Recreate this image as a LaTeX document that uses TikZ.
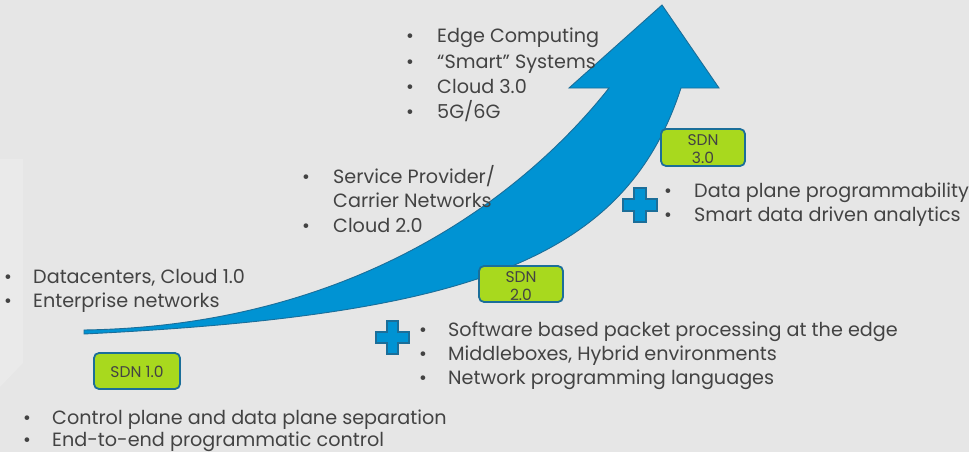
\documentclass[tikz,border=0pt]{standalone}
\usepackage{fontspec}
\setmainfont{Poppins}
\definecolor{bgcol}{HTML}{E6E6E6}
\definecolor{faintcol}{HTML}{EAEAEA}
\definecolor{arrowblue}{HTML}{0093D3}
\definecolor{edgeblue}{HTML}{1B6E99}
\definecolor{limecol}{HTML}{A8D91E}
\definecolor{txtcol}{HTML}{434343}
\tikzset{
  txt/.style={inner sep=0pt, anchor=base west, text=txtcol, font=\fontsize{19.2}{24}\selectfont},
  blt/.style={inner sep=0pt, anchor=base, text=txtcol, font=\fontsize{19}{24}\selectfont},
  sdnbox/.style={draw=edgeblue, line width=1.8pt, fill=limecol, rounded corners=5pt},
  sdntxt/.style={inner sep=0pt, anchor=base, text=txtcol, font=\fontsize{15.5}{18}\selectfont},
  arrowst/.style={fill=arrowblue, draw=edgeblue, line width=0.9pt, line join=miter},
  plusst/.style={fill=arrowblue, draw=edgeblue, line width=1.5pt}
}
\begin{document}
\begin{tikzpicture}[x=1pt,y=-1pt]
\fill[bgcol] (0,0) rectangle (969,452);
\useasboundingbox (0,0) rectangle (969,452);
% faint left shape
\fill[faintcol] (0,159) -- (23,159) -- (23,363) -- (0,387) -- cycle;

% main arrow
\coordinate (tailtop) at (84,330);
\coordinate (tailbot) at (84,334);
\coordinate (headinl) at (609,88);
\coordinate (headl) at (569,88);
\coordinate (tip) at (662,5);
\coordinate (headr) at (719,88);
\coordinate (headinr) at (681,88);
\draw[arrowst] (tailtop) .. controls (400,325) and (560,150) .. (headinl) -- (headl) -- (tip) -- (headr) -- (headinr) .. controls (625,260) and (470,315) .. (tailbot) -- cycle;

% top list
\node[blt] (b1) at (410,43) {•};
\node[txt] (t1) at (437,43) {Edge Computing};
\node[blt] (b2) at (410,68) {•};
\node[txt] (t2) at (437,68) {“Smart” Systems};
\node[blt] (b3) at (410,93) {•};
\node[txt] (t3) at (437,93) {Cloud 3.0};
\node[blt] (b4) at (410,118) {•};
\node[txt] (t4) at (437,118) {5G/6G};

% middle list
\node[blt] (b5) at (306,183) {•};
\node[txt] (t5) at (333,183) {Service Provider/};
\node[txt] (t6) at (333,207) {Carrier Networks};
\node[blt] (b7) at (306,232) {•};
\node[txt] (t7) at (333,232) {Cloud 2.0};

% left list
\node[blt] (b8) at (8,283) {•};
\node[txt] (t8) at (33,283) {Datacenters, Cloud 1.0};
\node[blt] (b9) at (8,307) {•};
\node[txt] (t9) at (33,307) {Enterprise networks};

% bottom list
\node[blt] (b10) at (27,424) {•};
\node[txt] (t10) at (52,424) {Control plane and data plane separation};
\node[blt] (b11) at (27,446) {•};
\node[txt] (t11) at (52,446) {End-to-end programmatic control};

% SDN 2.0 list
\node[blt] (b12) at (423,336) {•};
\node[txt] (t12) at (448,336) {Software based packet processing at the edge};
\node[blt] (b13) at (423,360) {•};
\node[txt] (t13) at (448,360) {Middleboxes, Hybrid environments};
\node[blt] (b14) at (423,384) {•};
\node[txt] (t14) at (448,384) {Network programming languages};

% SDN 3.0 list
\node[blt] (b15) at (668,197) {•};
\node[txt] (t15) at (694,197) {Data plane programmability};
\node[blt] (b16) at (668,221) {•};
\node[txt] (t16) at (694,221) {Smart data driven analytics};

% SDN boxes
\draw[sdnbox] (94,353) rectangle (180,389);
\node[sdntxt] (s1) at (137,377) {SDN 1.0};
\draw[sdnbox] (479,266) rectangle (563,302);
\node[sdntxt] (s2a) at (521,282) {SDN};
\node[sdntxt] (s2b) at (521,300) {2.0};
\draw[sdnbox] (661,129) rectangle (745,166);
\node[sdntxt] (s3a) at (703,145) {SDN};
\node[sdntxt] (s3b) at (703,163) {3.0};

% plus signs
\draw[plusst] (387,321) -- (398,321) -- (398,332) -- (409,332) -- (409,343) -- (398,343) -- (398,354) -- (387,354) -- (387,343) -- (376,343) -- (376,332) -- (387,332) -- cycle;
\draw[plusst] (634,188) -- (646,188) -- (646,199) -- (657,199) -- (657,211) -- (646,211) -- (646,222) -- (634,222) -- (634,211) -- (623,211) -- (623,199) -- (634,199) -- cycle;
\end{tikzpicture}
\end{document}
